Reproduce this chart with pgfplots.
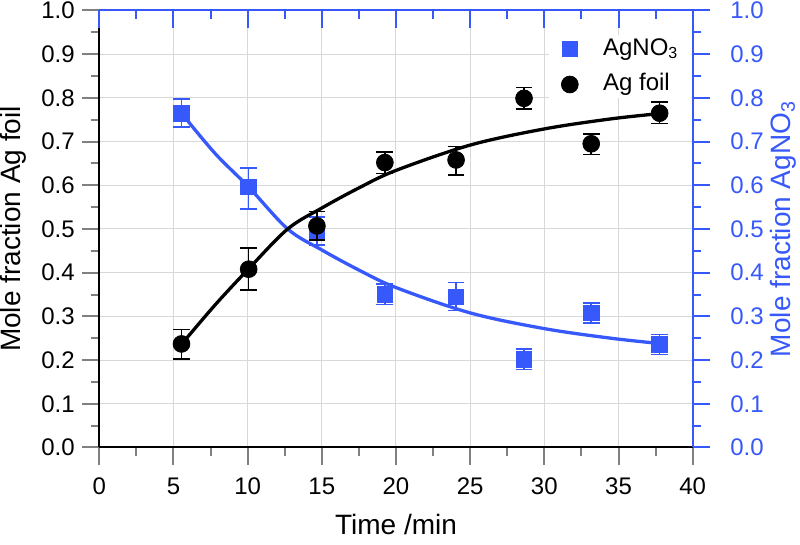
\documentclass[border=0pt]{standalone}
\usepackage{fontspec}
\setmainfont{Liberation Sans}
\usepackage{pgfplots}
\usepackage{pgfplotstable}
\pgfplotsset{compat=1.18}
\definecolor{ablue}{RGB}{55,88,250}
\definecolor{gridc}{RGB}{213,217,219}

\pgfplotstableread{
x y ep em
5.54 0.237 0.033 0.035
10.07 0.408 0.049 0.048
14.67 0.507 0.033 0.032
19.25 0.652 0.024 0.025
24.05 0.658 0.031 0.035
28.63 0.799 0.025 0.024
33.16 0.695 0.022 0.025
37.77 0.765 0.026 0.024
}\foiltab

\pgfplotstableread{
x y ep em
5.54 0.765 0.033 0.032
10.07 0.596 0.044 0.050
14.67 0.492 0.035 0.029
19.25 0.350 0.024 0.023
24.05 0.345 0.032 0.032
28.63 0.202 0.023 0.023
33.16 0.308 0.023 0.023
37.77 0.236 0.023 0.023
}\nitratetab

\pgfplotsset{
  common/.style={
    scale only axis, width=296.7pt, height=218.5pt,
    at={(0pt,0pt)}, anchor=south west,
    xmin=0, xmax=40, ymin=0, ymax=1,
    xtick={0,5,10,15,20,25,30,35,40},
    ytick={0,0.1,0.2,0.3,0.4,0.5,0.6,0.7,0.8,0.9,1.0},
    minor x tick num=1, minor y tick num=1,
    major tick length=8.75pt, minor tick length=4.35pt,
    tick style={line width=1pt},
    axis line style={line width=1pt},
    tick label style={font=\fontsize{12}{14}\selectfont},
    /pgf/number format/assume math mode=true,
    yticklabel style={/pgf/number format/fixed, /pgf/number format/fixed zerofill, /pgf/number format/precision=1},
    xticklabel style={yshift=-3pt},
    tick align=outside,
  },
}

\begin{document}
\begin{tikzpicture}
\useasboundingbox (-49.65pt,-48.35pt) rectangle (350.35pt,223.75pt);

% left/bottom axes with grid
\begin{axis}[common,
  axis x line*=bottom, axis y line*=left,
  grid=major, grid style={gridc, line width=0.5pt},
  xlabel={Time /min}, ylabel={Mole fraction Ag foil},
  every axis x label/.style={at={(rel axis cs:0.5,0)}, yshift=-38.5pt, anchor=center, font=\fontsize{14}{17}\selectfont},
  every axis y label/.style={at={(rel axis cs:0,0.5)}, xshift=-42.8pt, rotate=90, anchor=center, font=\fontsize{14}{17}\selectfont},
]
\end{axis}

% right axis, AgNO3
\begin{axis}[common,
  axis x line=none, axis y line*=right,
  axis line style={ablue}, tick style={ablue},
  yticklabel style={ablue, xshift=6.5pt},
  ylabel={Mole fraction AgNO\textsubscript{3}},
  every axis y label/.style={at={(rel axis cs:1,0.5)}, xshift=45.3pt, rotate=90, anchor=center, ablue, font=\fontsize{14}{17}\selectfont},
]
\addplot[ablue, line width=1.65pt, smooth, tension=0.55] coordinates {
(5.54,0.765) (7.8,0.673) (10.07,0.596) (12.7,0.500) (15,0.452) (17.5,0.406) (20,0.366) (25,0.308) (30,0.272) (34.5,0.250) (37.77,0.238)};
\addplot[only marks, mark=square*, ablue, mark size=3.9pt,
  error bars/.cd, y dir=both, y explicit,
  error bar style={line width=0.75pt, ablue},
  error mark options={rotate=90, mark size=4.2pt, line width=0.75pt, ablue}]
  table[x=x, y=y, y error plus=ep, y error minus=em] {\nitratetab};
\end{axis}

% Ag foil data and legend
\begin{axis}[common, hide axis,
  legend cell align=left,
  legend image code/.code={\draw[#1] plot coordinates {(0pt,0pt)};},
  legend style={at={(rel axis cs:1,1)}, anchor=north east, xshift=-0.6pt, yshift=-12.25pt,
    draw=none, fill=white, inner xsep=6.35pt, inner ysep=1pt, row sep=6.3pt,
    font=\fontsize{12}{14}\selectfont,
    nodes={inner sep=0pt, text height=9pt, text depth=2.5pt},
    /tikz/every odd column/.append style={column sep=12.45pt}},
]
\addlegendimage{only marks, mark=square*, ablue, mark size=3.9pt}
\addlegendentry{AgNO\textsubscript{3}}
\addlegendimage{only marks, mark=*, black, mark size=4.2pt}
\addlegendentry{Ag foil}
\addplot[black, line width=1.65pt, smooth, tension=0.55, forget plot] coordinates {
(5.54,0.236) (7.8,0.326) (10.07,0.409) (12.7,0.500) (15,0.548) (17.5,0.594) (20,0.634) (25,0.692) (30,0.729) (34.5,0.752) (37.77,0.764)};
\addplot[only marks, mark=*, black, mark size=4.2pt, forget plot,
  error bars/.cd, y dir=both, y explicit,
  error bar style={line width=0.75pt, black},
  error mark options={rotate=90, mark size=4.2pt, line width=0.75pt, black}]
  table[x=x, y=y, y error plus=ep, y error minus=em] {\foiltab};
\end{axis}

% top axis, blue, inward ticks
\begin{axis}[common,
  axis y line=none, axis x line*=top,
  tick align=inside, xticklabels={},
  axis line style={ablue}, tick style={ablue},
]
\end{axis}
\end{tikzpicture}
\end{document}
